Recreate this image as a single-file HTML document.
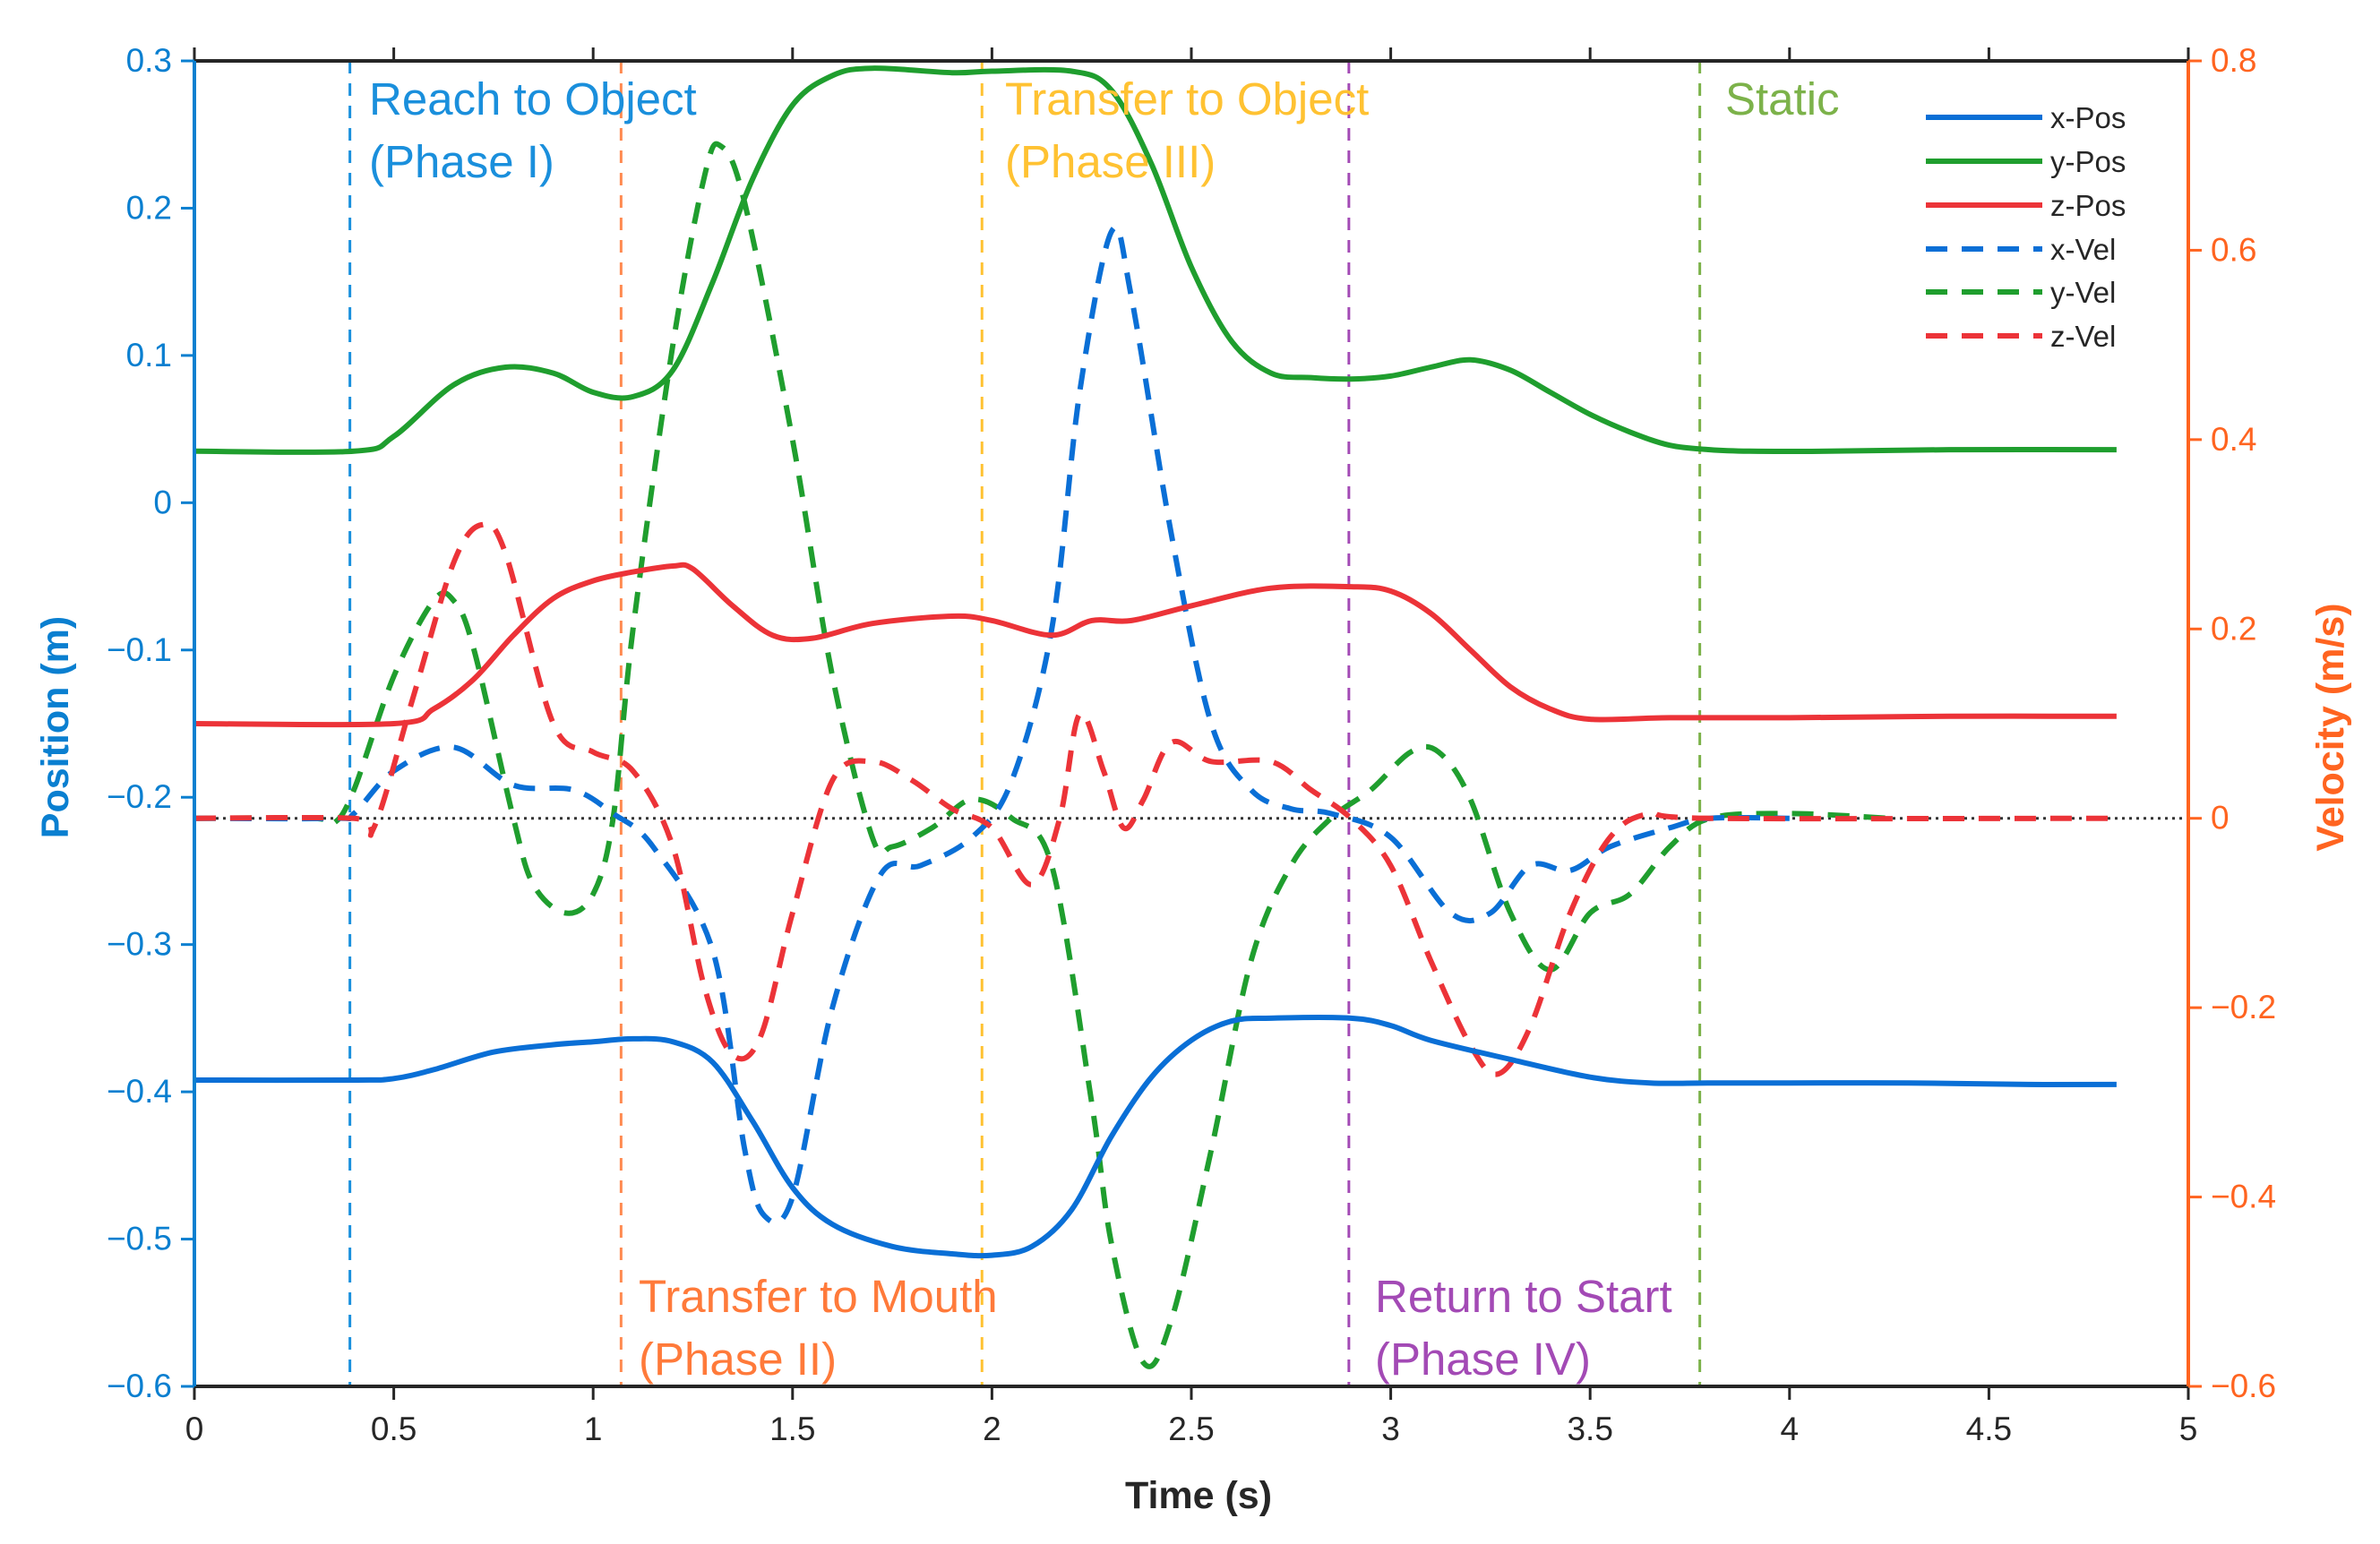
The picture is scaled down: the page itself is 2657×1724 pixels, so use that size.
<!DOCTYPE html>
<html><head><meta charset="utf-8"><style>
html,body{margin:0;padding:0;background:#fff;}
svg{display:block;font-family:"Liberation Sans",Arial,sans-serif;}
</style></head><body>
<svg id="chart" width="2657" height="1724" viewBox="0 0 2657 1724">
<g id="plot"></g>
</svg>
<script>
// ---- data ----
const xPosT=[0,0.4,0.5,0.6,0.75,0.9,1.0,1.1,1.2,1.3,1.4,1.5,1.6,1.75,1.9,2.0,2.1,2.2,2.3,2.4,2.5,2.6,2.7,2.9,3.0,3.1,3.3,3.5,3.65,3.8,4.0,4.3,4.6,4.82];
const xPosV=[-0.392,-0.392,-0.391,-0.385,-0.373,-0.368,-0.366,-0.364,-0.366,-0.38,-0.42,-0.465,-0.49,-0.505,-0.51,-0.511,-0.505,-0.48,-0.43,-0.39,-0.365,-0.352,-0.35,-0.35,-0.355,-0.365,-0.378,-0.39,-0.394,-0.394,-0.394,-0.394,-0.395,-0.395];
const yPosT=[0,0.4,0.5,0.65,0.78,0.9,1.0,1.1,1.2,1.3,1.4,1.5,1.6,1.7,1.9,2.0,2.2,2.3,2.4,2.5,2.6,2.7,2.8,2.9,3.0,3.1,3.2,3.3,3.4,3.5,3.6,3.7,3.8,3.9,4.1,4.4,4.82];
const yPosV=[0.035,0.035,0.045,0.08,0.092,0.088,0.075,0.072,0.09,0.15,0.22,0.27,0.29,0.295,0.292,0.293,0.293,0.28,0.23,0.16,0.11,0.088,0.085,0.084,0.086,0.092,0.097,0.09,0.075,0.06,0.048,0.039,0.036,0.035,0.035,0.036,0.036];
const zPosT=[0,0.5,0.6,0.7,0.8,0.9,1.0,1.1,1.2,1.25,1.35,1.45,1.55,1.7,1.9,2.0,2.15,2.25,2.35,2.5,2.7,2.9,3.0,3.1,3.2,3.3,3.4,3.5,3.7,4.0,4.4,4.82];
const zPosV=[-0.15,-0.15,-0.14,-0.12,-0.09,-0.065,-0.053,-0.047,-0.043,-0.045,-0.07,-0.09,-0.092,-0.082,-0.077,-0.08,-0.09,-0.08,-0.08,-0.07,-0.058,-0.057,-0.06,-0.075,-0.1,-0.125,-0.14,-0.147,-0.146,-0.146,-0.145,-0.145];
const xVelT=[0,0.35,0.4,0.5,0.65,0.8,0.95,1.05,1.15,1.3,1.38,1.43,1.5,1.6,1.72,1.82,1.95,2.05,2.15,2.22,2.3,2.35,2.45,2.55,2.65,2.75,2.85,3.0,3.15,3.25,3.35,3.45,3.55,3.7,3.8,4.0];
const xVelV=[0,0,0.005,0.05,0.075,0.035,0.03,0.005,-0.03,-0.14,-0.35,-0.42,-0.4,-0.2,-0.06,-0.05,-0.02,0.04,0.2,0.45,0.62,0.55,0.3,0.1,0.03,0.01,0.005,-0.02,-0.1,-0.1,-0.05,-0.055,-0.03,-0.01,0,0];
const yVelT=[0,0.3,0.35,0.4,0.5,0.6,0.65,0.7,0.8,0.85,0.93,1.0,1.05,1.1,1.2,1.28,1.32,1.38,1.5,1.6,1.7,1.75,1.85,1.95,2.05,2.15,2.25,2.3,2.38,2.45,2.55,2.65,2.75,2.85,2.95,3.05,3.12,3.2,3.3,3.4,3.5,3.6,3.7,3.8,4.0,4.25];
const yVelV=[0,0,-0.005,0.03,0.15,0.23,0.23,0.18,0,-0.07,-0.1,-0.08,0,0.2,0.5,0.68,0.71,0.65,0.4,0.15,-0.02,-0.03,-0.01,0.02,0,-0.05,-0.3,-0.45,-0.575,-0.53,-0.35,-0.15,-0.05,0,0.03,0.07,0.07,0.02,-0.1,-0.16,-0.1,-0.08,-0.03,0,0.005,0];
const zVelT=[0,0.4,0.45,0.55,0.65,0.72,0.78,0.9,1.0,1.1,1.2,1.28,1.35,1.42,1.5,1.6,1.7,1.8,1.9,2.0,2.1,2.17,2.22,2.28,2.33,2.38,2.45,2.55,2.7,2.8,2.9,3.0,3.1,3.2,3.27,3.35,3.45,3.55,3.65,3.8,4.82];
const zVelV=[0,0,-0.01,0.13,0.27,0.31,0.28,0.1,0.07,0.05,-0.03,-0.18,-0.25,-0.23,-0.1,0.04,0.06,0.04,0.01,-0.01,-0.07,0,0.11,0.05,-0.01,0.02,0.08,0.06,0.06,0.03,0,-0.05,-0.15,-0.24,-0.27,-0.22,-0.1,-0.02,0.005,0,0];
const phaseTimes=[0.39,1.07,1.975,2.895,3.775];
const xTicks=[0,0.5,1,1.5,2,2.5,3,3.5,4,4.5,5];
const leftTicks=[0.3,0.2,0.1,0,-0.1,-0.2,-0.3,-0.4,-0.5,-0.6];
const rightTicks=[0.8,0.6,0.4,0.2,0,-0.2,-0.4,-0.6];

// ---- layout ----
const L=217,R=2443,T=68,B=1548;
const sx=t=>L+(t-0)/5*(R-L);
const syL=v=>T+(0.3-v)/0.9*(B-T);
const syR=v=>T+(0.8-v)/1.4*(B-T);
const NS='http://www.w3.org/2000/svg';
const svg=document.getElementById('chart');
function mk(tag,attrs,parent,text){const e=document.createElementNS(NS,tag);for(const k in attrs)e.setAttribute(k,attrs[k]);if(text!==undefined)e.textContent=text;(parent||svg).appendChild(e);return e;}
function pathFor(ts,vs,sy){
  const p=ts.map((t,i)=>[sx(t),sy(vs[i])]);
  let d='M'+p[0][0].toFixed(1)+','+p[0][1].toFixed(1);
  for(let i=0;i<p.length-1;i++){
    const p0=p[Math.max(0,i-1)],p1=p[i],p2=p[i+1],p3=p[Math.min(p.length-1,i+2)];
    const c1x=p1[0]+(p2[0]-p0[0])/6,c1y=p1[1]+(p2[1]-p0[1])/6;
    const c2x=p2[0]-(p3[0]-p1[0])/6,c2y=p2[1]-(p3[1]-p1[1])/6;
    d+=' C'+c1x.toFixed(1)+','+c1y.toFixed(1)+' '+c2x.toFixed(1)+','+c2y.toFixed(1)+' '+p2[0].toFixed(1)+','+p2[1].toFixed(1);
  }
  return d;
}
const plot=document.getElementById('plot');
const phaseColors=['#1a90dd','#ff8a50','#ffc232','#a34ab5','#7cb24a'];
phaseTimes.forEach((t,i)=>{
  const e=mk('line',{x1:sx(t),x2:sx(t),y1:T,y2:B,stroke:phaseColors[i],'stroke-width':3,'stroke-dasharray':'14,11'},plot);
  
  
});
const z=mk('line',{x1:L,x2:R,y1:syR(0),y2:syR(0),stroke:'#333','stroke-width':3,'stroke-dasharray':'3,5'},plot);


const series=[
 [yVelT,yVelV,syR,'#1f9e2e',true,'y-vel-line'],
 [xVelT,xVelV,syR,'#0a6fd6',true,'x-vel-line'],
 [zVelT,zVelV,syR,'#ec3338',true,'z-vel-line'],
 [yPosT,yPosV,syL,'#1f9e2e',false,'y-pos-line'],
 [zPosT,zPosV,syL,'#ec3338',false,'z-pos-line'],
 [xPosT,xPosV,syL,'#0a6fd6',false,'x-pos-line']];
series.forEach(s=>{
  const a={d:pathFor(s[0],s[1],s[2]),fill:'none',stroke:s[3],'stroke-width':6,'stroke-linejoin':'round'};
  if(s[4])a['stroke-dasharray']='24,16';
  const e=mk('path',a,plot);
  
  
});
const ax=mk('g',{},svg);
mk('line',{x1:L,x2:R,y1:T,y2:T,stroke:'#262626','stroke-width':4},ax);
mk('line',{x1:L,x2:R,y1:B,y2:B,stroke:'#262626','stroke-width':4},ax);
mk('line',{x1:L,x2:L,y1:T,y2:B,stroke:'#0a7fd0','stroke-width':4},ax);
mk('line',{x1:R,x2:R,y1:T,y2:B,stroke:'#ff6420','stroke-width':4},ax);
xTicks.forEach(t=>{
  mk('line',{x1:sx(t),x2:sx(t),y1:T,y2:T-15,stroke:'#262626','stroke-width':3},ax);
  mk('line',{x1:sx(t),x2:sx(t),y1:B,y2:B+15,stroke:'#262626','stroke-width':3},ax);
  const e=mk('text',{x:sx(t),y:B+60,'font-size':37,fill:'#262626','text-anchor':'middle'},ax,String(t));
  
  
});
leftTicks.forEach(v=>{
  mk('line',{x1:L,x2:L-15,y1:syL(v),y2:syL(v),stroke:'#0a7fd0','stroke-width':3},ax);
  const e=mk('text',{x:L-25,y:syL(v)+12,'font-size':37,fill:'#0a7fd0','text-anchor':'end'},ax,(v<0?'\u2212'+(-v):String(v)));
  
  
});
rightTicks.forEach(v=>{
  mk('line',{x1:R,x2:R+15,y1:syR(v),y2:syR(v),stroke:'#ff6420','stroke-width':3},ax);
  const e=mk('text',{x:R+25,y:syR(v)+12,'font-size':37,fill:'#ff6420','text-anchor':'start'},ax,(v<0?'\u2212'+(-v):String(v)));
  
  
});
</script>
<svg style="position:absolute;left:0;top:0" width="2657" height="1724">
<text x="1338" y="1684" font-size="43" font-weight="bold" fill="#262626" text-anchor="middle" font-family="Liberation Sans, sans-serif">Time (s)</text>
<text transform="translate(76,812) rotate(-90)" font-size="43" font-weight="bold" fill="#0a7fd0" text-anchor="middle" font-family="Liberation Sans, sans-serif">Position (m)</text>
<text transform="translate(2616,812) rotate(-90)" font-size="43" font-weight="bold" fill="#ff6420" text-anchor="middle" font-family="Liberation Sans, sans-serif">Velocity (m/s)</text>
<g font-size="51" font-family="Liberation Sans, sans-serif">
<text x="412" y="128" fill="#1a8fdc">Reach to Object<tspan x="412" dy="70">(Phase I)</tspan></text>
<text x="1122" y="128" fill="#ffc232">Transfer to Object<tspan x="1122" dy="70">(Phase III)</tspan></text>
<text x="1926" y="128" fill="#7cb24a">Static</text>
<text x="713" y="1465" fill="#ff7a3a">Transfer to Mouth<tspan x="713" dy="70">(Phase II)</tspan></text>
<text x="1535" y="1465" fill="#a34ab5">Return to Start<tspan x="1535" dy="70">(Phase IV)</tspan></text>
</g>
<g font-size="33" font-family="Liberation Sans, sans-serif" fill="#262626">
<line x1="2150" x2="2280" y1="131" y2="131" stroke="#0a6fd6" stroke-width="6"/><text x="2289" y="143">x-Pos</text>
<line x1="2150" x2="2280" y1="180" y2="180" stroke="#1f9e2e" stroke-width="6"/><text x="2289" y="192">y-Pos</text>
<line x1="2150" x2="2280" y1="229" y2="229" stroke="#ec3338" stroke-width="6"/><text x="2289" y="241">z-Pos</text>
<line x1="2150" x2="2280" y1="278" y2="278" stroke="#0a6fd6" stroke-width="6" stroke-dasharray="24,16"/><text x="2289" y="290">x-Vel</text>
<line x1="2150" x2="2280" y1="326" y2="326" stroke="#1f9e2e" stroke-width="6" stroke-dasharray="24,16"/><text x="2289" y="338">y-Vel</text>
<line x1="2150" x2="2280" y1="375" y2="375" stroke="#ec3338" stroke-width="6" stroke-dasharray="24,16"/><text x="2289" y="387">z-Vel</text>
</g>
</svg>
</body></html>
